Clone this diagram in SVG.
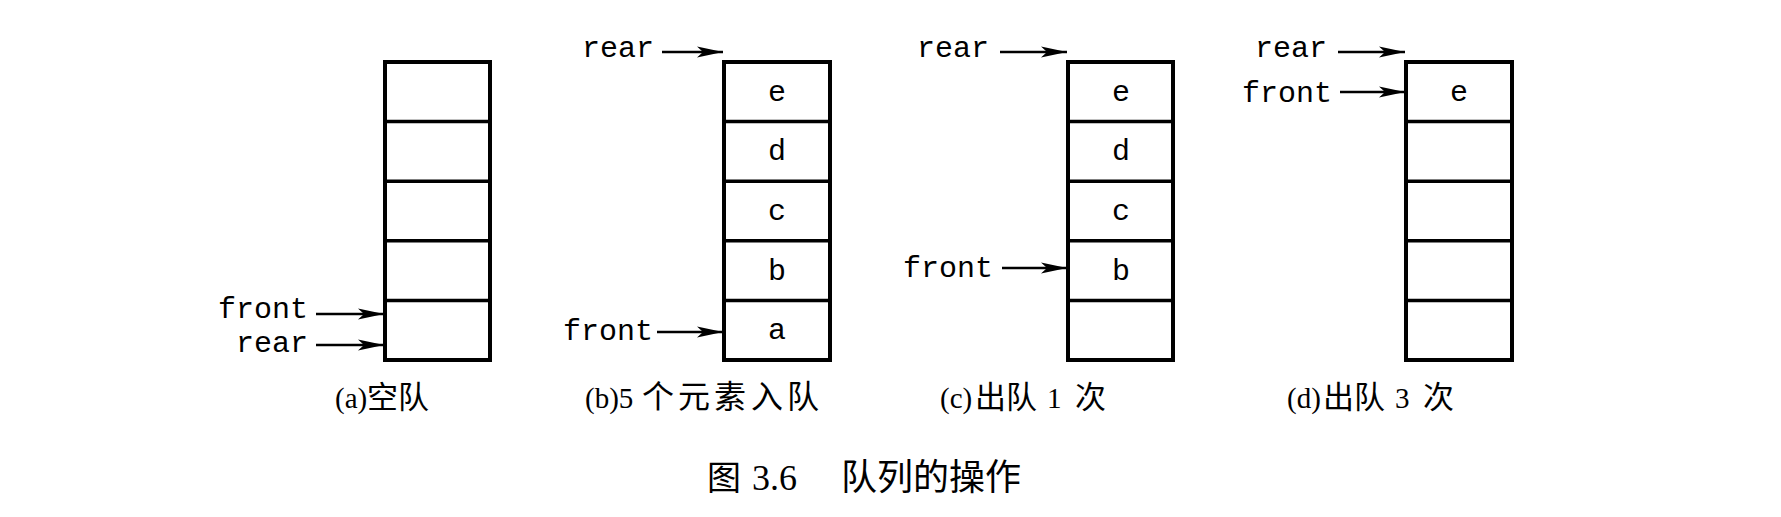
<svg xmlns="http://www.w3.org/2000/svg" width="1781" height="517" viewBox="0 0 1781 517">
<defs>
<style>
.box{fill:#fff;stroke:#000;stroke-width:4}
.div{stroke:#000;stroke-width:3.5}
.lbl{font-family:"Liberation Mono","DejaVu Sans Mono",monospace;font-size:30px;fill:#000}
.cell{font-family:"Liberation Mono","DejaVu Sans Mono",monospace;font-size:30px;fill:#000;text-anchor:middle}
.cap{font-family:"Liberation Serif","Noto Sans CJK SC",serif;font-size:29px;fill:#000}
.cj{font-family:"Noto Sans CJK SC","Liberation Serif",sans-serif;font-size:31px}
.cjb{font-family:"Noto Sans CJK SC","Liberation Serif",sans-serif;font-size:32px}
.title{font-family:"Liberation Serif","Noto Sans CJK SC",serif;font-size:36px;fill:#000}
.arr{stroke:#000;stroke-width:2.6;fill:none;marker-end:url(#ah)}
</style>
<marker id="ah" markerUnits="userSpaceOnUse" markerWidth="28" markerHeight="14" refX="26" refY="7" orient="auto">
<path d="M0,1.5 L26,7 L0,12.5 L6,7 Z" fill="#000"/>
</marker>
</defs>
<rect width="1781" height="517" fill="#fff"/>

<g id="queue-a">
<rect class="box" x="385" y="62" width="105" height="298"/>
<line class="div" x1="385" y1="121.6" x2="490" y2="121.6"/>
<line class="div" x1="385" y1="181.2" x2="490" y2="181.2"/>
<line class="div" x1="385" y1="240.8" x2="490" y2="240.8"/>
<line class="div" x1="385" y1="300.4" x2="490" y2="300.4"/>
<text class="lbl" x="218" y="318">front</text>
<text class="lbl" x="236" y="352">rear</text>
<text class="cap" x="335" y="408">(a)<tspan class="cj" x="367">空队</tspan></text>
</g>

<g id="queue-b">
<rect class="box" x="724" y="62" width="106" height="298"/>
<line class="div" x1="724" y1="121.6" x2="830" y2="121.6"/>
<line class="div" x1="724" y1="181.2" x2="830" y2="181.2"/>
<line class="div" x1="724" y1="240.8" x2="830" y2="240.8"/>
<line class="div" x1="724" y1="300.4" x2="830" y2="300.4"/>
<text class="cell" x="777" y="101">e</text>
<text class="cell" x="777" y="160">d</text>
<text class="cell" x="777" y="220">c</text>
<text class="cell" x="777" y="280">b</text>
<text class="cell" x="777" y="339">a</text>
<text class="lbl" x="582" y="57">rear</text>
<text class="lbl" x="563" y="340">front</text>
<text class="cap" x="585" y="408">(b)5<tspan class="cjb" x="642 678 714 751 787">个元素入队</tspan></text>
</g>

<g id="queue-c">
<rect class="box" x="1068" y="62" width="105" height="298"/>
<line class="div" x1="1068" y1="121.6" x2="1173" y2="121.6"/>
<line class="div" x1="1068" y1="181.2" x2="1173" y2="181.2"/>
<line class="div" x1="1068" y1="240.8" x2="1173" y2="240.8"/>
<line class="div" x1="1068" y1="300.4" x2="1173" y2="300.4"/>
<text class="cell" x="1121" y="101">e</text>
<text class="cell" x="1121" y="160">d</text>
<text class="cell" x="1121" y="220">c</text>
<text class="cell" x="1121" y="280">b</text>
<text class="lbl" x="917" y="57">rear</text>
<text class="lbl" x="903" y="277">front</text>
<text class="cap" x="940" y="408">(c)<tspan class="cj" x="975">出队</tspan><tspan x="1047">1</tspan><tspan class="cj" x="1075">次</tspan></text>
</g>

<g id="queue-d">
<rect class="box" x="1406" y="62" width="106" height="298"/>
<line class="div" x1="1406" y1="121.6" x2="1512" y2="121.6"/>
<line class="div" x1="1406" y1="181.2" x2="1512" y2="181.2"/>
<line class="div" x1="1406" y1="240.8" x2="1512" y2="240.8"/>
<line class="div" x1="1406" y1="300.4" x2="1512" y2="300.4"/>
<text class="cell" x="1459" y="101">e</text>
<text class="lbl" x="1255" y="57">rear</text>
<text class="lbl" x="1242" y="102">front</text>
<text class="cap" x="1287" y="408">(d)<tspan class="cj" x="1323">出队</tspan><tspan x="1395">3</tspan><tspan class="cj" x="1423">次</tspan></text>
</g>

<g id="connectors">
<line class="arr" x1="316" y1="314" x2="384" y2="314"/>
<line class="arr" x1="316" y1="345" x2="384" y2="345"/>
<line class="arr" x1="662" y1="52" x2="723" y2="52"/>
<line class="arr" x1="657" y1="332" x2="723" y2="332"/>
<line class="arr" x1="1000" y1="52" x2="1067" y2="52"/>
<line class="arr" x1="1002" y1="268" x2="1067" y2="268"/>
<line class="arr" x1="1338" y1="52" x2="1405" y2="52"/>
<line class="arr" x1="1340" y1="92" x2="1405" y2="92"/>
</g>

<g id="title">
<text class="title" x="707" y="490"><tspan font-size="34">图</tspan><tspan x="752">3.6</tspan><tspan x="841">队列的操作</tspan></text>
</g>
</svg>
